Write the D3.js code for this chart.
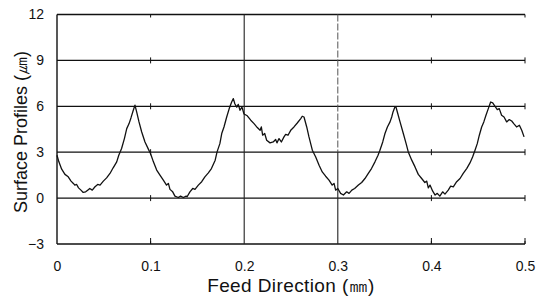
<!DOCTYPE html>
<html><head><meta charset="utf-8">
<script src="https://cdn.jsdelivr.net/npm/d3@7"></script>
<style>
html,body{margin:0;padding:0;background:#fff;}
svg{display:block;}
text{font-family:"Liberation Sans",Arial,sans-serif;fill:#111;}
</style></head>
<body>
<svg id="c" width="543" height="296"></svg>
<script>
// ---- data ----
const yTicks = [-3, 0, 3, 6, 9, 12];
const xTicks = [0, 0.1, 0.2, 0.3, 0.4, 0.5];
const xTickLabels = ["0", "0.1", "0.2", "0.3", "0.4", "0.5"];
const xTitle = "Feed Direction (\u339C)";
const yTitle = "Surface Profiles (\u339B)";
const profileX = [0,0.002,0.005,0.0085,0.012,0.015,0.0175,0.019,0.021,0.023,0.0256,0.028,0.0306,0.0328,0.035,0.0377,0.0406,0.0435,0.046,0.0495,0.053,0.0566,0.06,0.0638,0.066,0.069,0.072,0.0745,0.077,0.079,0.0815,0.0833,0.0851,0.0876,0.0905,0.094,0.0976,0.1,0.103,0.1065,0.11,0.1136,0.117,0.119,0.1207,0.1236,0.126,0.1296,0.132,0.135,0.138,0.139,0.142,0.145,0.1474,0.151,0.1546,0.158,0.1617,0.165,0.169,0.171,0.174,0.176,0.1784,0.1813,0.184,0.1866,0.1884,0.19,0.192,0.1937,0.1955,0.1976,0.1998,0.2033,0.207,0.2105,0.214,0.217,0.2183,0.2197,0.2219,0.224,0.2276,0.231,0.2336,0.235,0.2372,0.2397,0.2425,0.2443,0.2468,0.2497,0.2532,0.2567,0.2604,0.262,0.2639,0.2668,0.2692,0.2728,0.2764,0.28,0.2834,0.287,0.2906,0.294,0.296,0.2977,0.3,0.303,0.306,0.3095,0.312,0.315,0.318,0.322,0.3255,0.329,0.3326,0.336,0.3397,0.343,0.345,0.348,0.3504,0.353,0.3558,0.3576,0.359,0.361,0.3622,0.3636,0.3665,0.37,0.373,0.3753,0.379,0.3825,0.386,0.3896,0.393,0.395,0.3967,0.3985,0.4014,0.404,0.4063,0.409,0.412,0.4145,0.418,0.4206,0.4234,0.427,0.4306,0.434,0.4377,0.4412,0.444,0.4466,0.449,0.4512,0.4537,0.456,0.4583,0.4608,0.4633,0.4655,0.468,0.4704,0.4725,0.475,0.4776,0.4804,0.4832,0.4858,0.488,0.491,0.494,0.4965,0.499];
const profileY = [2.8,2.37,1.89,1.55,1.39,1.11,0.96,0.85,0.89,0.67,0.52,0.37,0.41,0.52,0.63,0.52,0.74,0.89,0.85,1.11,1.32,1.61,1.98,2.37,2.8,3.24,3.89,4.54,4.87,5.24,5.74,6.07,5.63,4.98,4.32,3.67,3.2,2.9,2.37,1.83,1.5,1.17,0.85,0.96,0.57,0.41,0.13,0.04,0.13,0.04,0.13,0.09,0.41,0.63,0.57,0.85,1.07,1.39,1.65,1.93,2.48,3.02,3.56,4.22,4.65,5.3,5.85,6.28,6.5,6.17,5.95,6.13,5.74,5.95,5.5,5.38,5.09,4.87,4.61,4.43,4.65,4.11,4.22,3.78,3.61,3.67,3.83,3.61,3.89,3.67,4.0,4.17,4.11,4.43,4.65,4.91,5.2,5.35,5.3,4.65,4.0,3.13,2.69,2.15,1.71,1.43,1.17,0.85,0.96,0.52,0.63,0.31,0.2,0.41,0.31,0.52,0.63,0.85,1.02,1.28,1.61,1.93,2.37,2.8,3.13,3.67,4.22,4.65,4.98,5.3,5.63,5.95,5.95,5.63,4.98,4.22,3.56,3.02,2.48,2.04,1.55,1.28,1.02,1.11,0.67,0.85,0.45,0.2,0.31,0.13,0.41,0.26,0.52,0.78,0.74,1.07,1.28,1.61,1.93,2.3,2.69,3.13,3.56,4.11,4.65,4.98,5.41,5.85,6.28,6.22,6.0,5.78,5.85,5.41,5.3,4.98,5.13,5.04,4.87,4.65,4.76,4.43,4.0];

// ---- layout ----
const svg = d3.select("#c");
const L = 57, R = 525, T = 14.5, B = 244;
const x = d3.scaleLinear().domain([0, 0.5]).range([L, R]);
const y = d3.scaleLinear().domain([-3, 12]).range([B, T]);

// horizontal gridlines
svg.append("g").selectAll("line").data(yTicks).join("line")
  .attr("x1", L).attr("x2", R)
  .attr("y1", d => y(d)).attr("y2", d => y(d))
  .attr("stroke", "#111").attr("stroke-width", 1.3);

// vertical gridlines at 0.2 and 0.3
svg.append("line").attr("x1", x(0.2)).attr("x2", x(0.2)).attr("y1", T).attr("y2", B)
  .attr("stroke", "#222").attr("stroke-width", 1.1);
svg.append("line").attr("x1", x(0.3)).attr("x2", x(0.3)).attr("y1", T).attr("y2", y(3))
  .attr("stroke", "#555").attr("stroke-width", 1).attr("stroke-dasharray", "7,2");
svg.append("line").attr("x1", x(0.3)).attr("x2", x(0.3)).attr("y1", y(3)).attr("y2", B)
  .attr("stroke", "#222").attr("stroke-width", 1.1);

// left axis line
svg.append("line").attr("x1", L).attr("x2", L).attr("y1", T).attr("y2", B)
  .attr("stroke", "#111").attr("stroke-width", 1.4);

// small tick crosses at x ticks on each gridline
const tickPairs = [];
[0.1, 0.4, 0.5].forEach(tx => yTicks.forEach(ty => tickPairs.push([tx, ty])));
svg.append("g").selectAll("line").data(tickPairs).join("line")
  .attr("x1", d => x(d[0])).attr("x2", d => x(d[0]))
  .attr("y1", d => y(d[1]) - (d[1] === 12 ? 0 : 3))
  .attr("y2", d => y(d[1]) + (d[1] === -3 ? 0 : 3))
  .attr("stroke", "#111").attr("stroke-width", 1);
svg.append("g").selectAll("line").data([0.1, 0.4, 0.5]).join("line")
  .attr("x1", d => x(d)).attr("x2", d => x(d))
  .attr("y1", y(-3) - 6).attr("y2", y(-3))
  .attr("stroke", "#111").attr("stroke-width", 1);

// y axis labels
const yAxis = d3.axisLeft(y).tickValues(yTicks).tickSize(0).tickPadding(13);
const gy = svg.append("g").attr("transform", `translate(${L},0)`).call(yAxis);
gy.select(".domain").remove();
gy.selectAll("text").style("font-size", "14px").style("font-family", "'Liberation Sans',Arial,sans-serif").attr("fill", "#111");

// x axis labels
const xAxis = d3.axisBottom(x).tickValues(xTicks).tickSize(0).tickPadding(17)
  .tickFormat((d, i) => xTickLabels[i]);
const gx = svg.append("g").attr("transform", `translate(0,${B})`).call(xAxis);
gx.select(".domain").remove();
gx.selectAll("text").style("font-size", "14px").style("font-family", "'Liberation Sans',Arial,sans-serif").attr("fill", "#111");

// profile line
const pts = profileX.map((d, i) => [d, profileY[i]]);
svg.append("path").datum(pts)
  .attr("d", d3.line().x(d => x(d[0])).y(d => y(d[1])))
  .attr("fill", "none").attr("stroke", "#111").attr("stroke-width", 1.3)
  .attr("stroke-linejoin", "round");

// titles
svg.append("text").attr("x", 291).attr("y", 292).attr("text-anchor", "middle")
  .style("font-size", "19px").style("letter-spacing", "0.4px").text(xTitle);
svg.append("text").attr("transform", "translate(27,132) rotate(-90)")
  .attr("text-anchor", "middle").style("font-size", "18px").text(yTitle);
</script>
</body></html>
